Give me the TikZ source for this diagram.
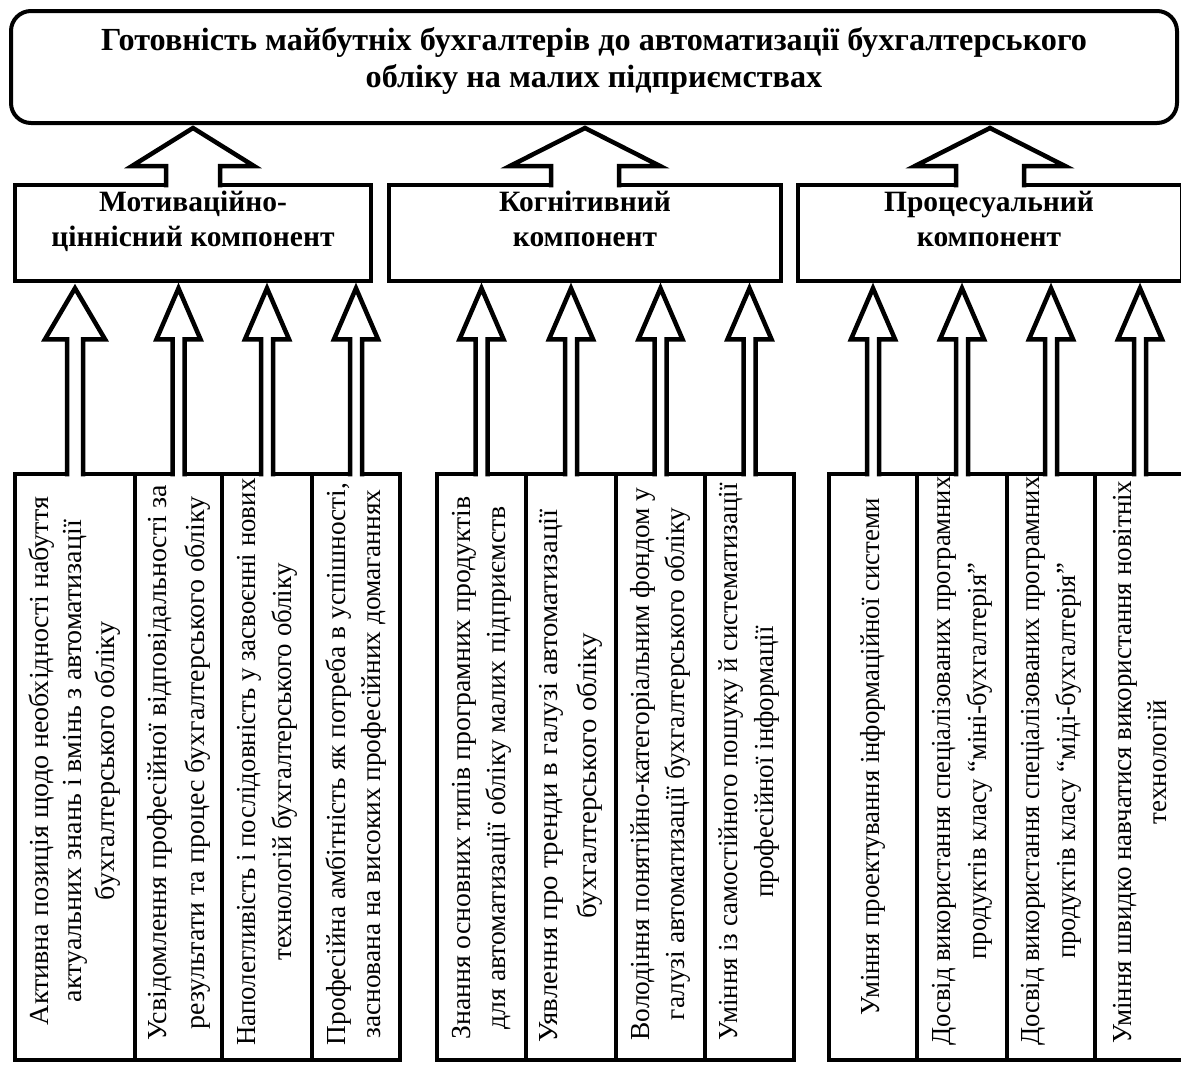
\documentclass[tikz,border=0pt]{standalone}
\usepackage{fontspec}
\setmainfont{Liberation Serif}
\usetikzlibrary{calc}
\newlength\itemlen
\newsavebox\itemmeasurebox
\newcommand{\blockarrow}[6]{% #1 from, #2 to, #3 head half, #4 shaft half, #5 head length, #6 tip offset
  \coordinate (abot) at (#1.north);
  \coordinate (atip) at ($(#1.north |- #2.south)+(0,#6)$);
  \fill[white] ($(abot)+(-#4,4.5)$) -- ($(atip)+(-#4,#5)$) -- ($(atip)+(-#3,#5)$) -- (atip) -- ($(atip)+(#3,#5)$) -- ($(atip)+(#4,#5)$) -- ($(abot)+(#4,4.5)$) -- cycle;
  \draw[arrowline] ($(abot)+(-#4,4.5)$) -- ($(atip)+(-#4,#5)$) -- ($(atip)+(-#3,#5)$) -- (atip) -- ($(atip)+(#3,#5)$) -- ($(atip)+(#4,#5)$) -- ($(abot)+(#4,4.5)$);
}
% #1 name, #2 box, #3 y shift, #4 baselineskip, #5 target length, #6 longest line, #7 text
\newcommand{\itemlabel}[7]{%
  \pgfinterruptpicture
    \global\setbox\itemmeasurebox=\hbox{\fontsize{27.5}{30}\selectfont #6}%
    \global\itemlen=\wd\itemmeasurebox
  \endpgfinterruptpicture
  \pgfmathsetmacro{\itemsc}{#5/\itemlen}%
  \node[itemtext, xscale=\itemsc, font=\fontsize{27.5}{#4}\selectfont] (#1) at ($(#2)+(0,#3)$) {#7};
}
\begin{document}
\begin{tikzpicture}[x=1pt,y=-1pt,
  topbox/.style={draw, line width=4pt, rounded corners=20pt, minimum width=1166pt, minimum height=112pt, inner sep=0pt},
  compbox/.style={draw, line width=4.5pt, minimum height=96pt, inner sep=0pt},
  itembox/.style={draw, line width=4.5pt, minimum height=586pt, inner sep=0pt},
  titletext/.style={font=\fontsize{32.2}{37}\selectfont\bfseries, align=center, inner sep=0pt, anchor=north},
  comptext/.style={font=\fontsize{29.5}{35}\selectfont\bfseries, align=center, inner sep=0pt, anchor=north},
  itemtext/.style={align=center, inner sep=0pt, rotate=90},
  arrowline/.style={line width=4.5pt, miter limit=20}]
\fill[white] (0,0) rectangle (1181,1066);
\clip (0,0) rectangle (1181,1066);

% top box
\node[topbox] (top) at (594,67) {};
\node[titletext] (toptext) at (594,27.5) {Готовність майбутніх бухгалтерів до автоматизації бухгалтерського\\обліку на малих підприємствах};

% component boxes
\node[compbox, minimum width=356pt] (c1) at (193,233) {};
\node[compbox, minimum width=392pt] (c2) at (585,233) {};
\node[compbox, minimum width=384pt] (c3) at (990,233) {};
\node[comptext] (c1t) at (193,191) {Мотиваційно-\\ціннісний компонент};
\node[comptext] (c2t) at (585,191) {Когнітивний\\компонент};
\node[comptext] (c3t) at (989,191) {Процесуальний\\компонент};

% item boxes group 1
\node[itembox, minimum width=120pt] (g1a) at (75,767) {};
\node[itembox, minimum width=87pt] (g1b) at (178.5,767) {};
\node[itembox, minimum width=90pt] (g1c) at (267,767) {};
\node[itembox, minimum width=88pt] (g1d) at (356,767) {};
% group 2
\node[itembox, minimum width=89pt] (g2a) at (481.5,767) {};
\node[itembox, minimum width=90pt] (g2b) at (571,767) {};
\node[itembox, minimum width=89pt] (g2c) at (660.5,767) {};
\node[itembox, minimum width=89pt] (g2d) at (749.5,767) {};
% group 3
\node[itembox, minimum width=88pt] (g3a) at (873,767) {};
\node[itembox, minimum width=90pt] (g3b) at (962,767) {};
\node[itembox, minimum width=88pt] (g3c) at (1051,767) {};
\node[itembox, minimum width=90pt] (g3d) at (1140,767) {};

% item texts
\itemlabel{g1at}{g1a}{-6}{33}{528}{Активна позиція щодо необхідності набуття}{Активна позиція щодо необхідності набуття\\актуальних знань і вмінь з автоматизації\\бухгалтерського обліку}
\itemlabel{g1bt}{g1b}{-4}{38}{555}{Усвідомлення професійної відповідальності за}{Усвідомлення професійної відповідальності за\\результати та процес бухгалтерського обліку}
\itemlabel{g1ct}{g1c}{-5}{36}{567}{Наполегливість і послідовність у засвоєнні нових}{Наполегливість і послідовність у засвоєнні нових\\технологій бухгалтерського обліку}
\itemlabel{g1dt}{g1d}{-3}{35}{562}{Професійна амбітність як потреба в успішності,}{Професійна амбітність як потреба в успішності,\\заснована на високих професійних домаганнях}
\itemlabel{g2at}{g2a}{1}{35}{543}{Знання основних типів програмних продуктів}{Знання основних типів програмних продуктів\\для автоматизації обліку малих підприємств}
\itemlabel{g2bt}{g2b}{9}{39}{533}{Уявлення про тренди в галузі автоматизації}{Уявлення про тренди в галузі автоматизації\\бухгалтерського обліку}
\itemlabel{g2ct}{g2c}{-3}{35}{553}{Володіння понятійно-категоріальним фондом у}{Володіння понятійно-категоріальним фондом у\\галузі автоматизації бухгалтерського обліку}
\itemlabel{g2dt}{g2d}{-5}{36}{557}{Уміння із самостійного пошуку й систематизації}{Уміння із самостійного пошуку й систематизації\\професійної інформації}
\itemlabel{g3at}{g3a}{-10}{36}{517}{Уміння проектування інформаційної системи}{Уміння проектування інформаційної системи}
\itemlabel{g3bt}{g3b}{-6}{36}{569}{Досвід використання спеціалізованих програмних}{Досвід використання спеціалізованих програмних\\продуктів класу “міні-бухгалтерія”}
\itemlabel{g3ct}{g3c}{-6}{36}{569}{Досвід використання спеціалізованих програмних}{Досвід використання спеціалізованих програмних\\продуктів класу “міді-бухгалтерія”}
\itemlabel{g3dt}{g3d}{-5}{35}{563}{Уміння швидко навчатися використання новітніх}{Уміння швидко навчатися використання новітніх\\технологій}

% big arrows
\blockarrow{c1}{top}{61}{27}{38}{3}
\blockarrow{c2}{top}{75}{34}{38}{3}
\blockarrow{c3}{top}{75}{34}{38}{3}

% small arrows
\blockarrow{g1a}{c1}{30}{8}{51}{5}
\blockarrow{g1b}{c1}{22}{6}{51}{5}
\blockarrow{g1c}{c1}{22}{6}{51}{5}
\blockarrow{g1d}{c1}{22}{6}{51}{5}
\blockarrow{g2a}{c2}{22}{6}{51}{5}
\blockarrow{g2b}{c2}{22}{6}{51}{5}
\blockarrow{g2c}{c2}{22}{6}{51}{5}
\blockarrow{g2d}{c2}{22}{6}{51}{5}
\blockarrow{g3a}{c3}{22}{6}{51}{5}
\blockarrow{g3b}{c3}{22}{6}{51}{5}
\blockarrow{g3c}{c3}{22}{6}{51}{5}
\blockarrow{g3d}{c3}{22}{6}{51}{5}
\end{tikzpicture}
\end{document}
